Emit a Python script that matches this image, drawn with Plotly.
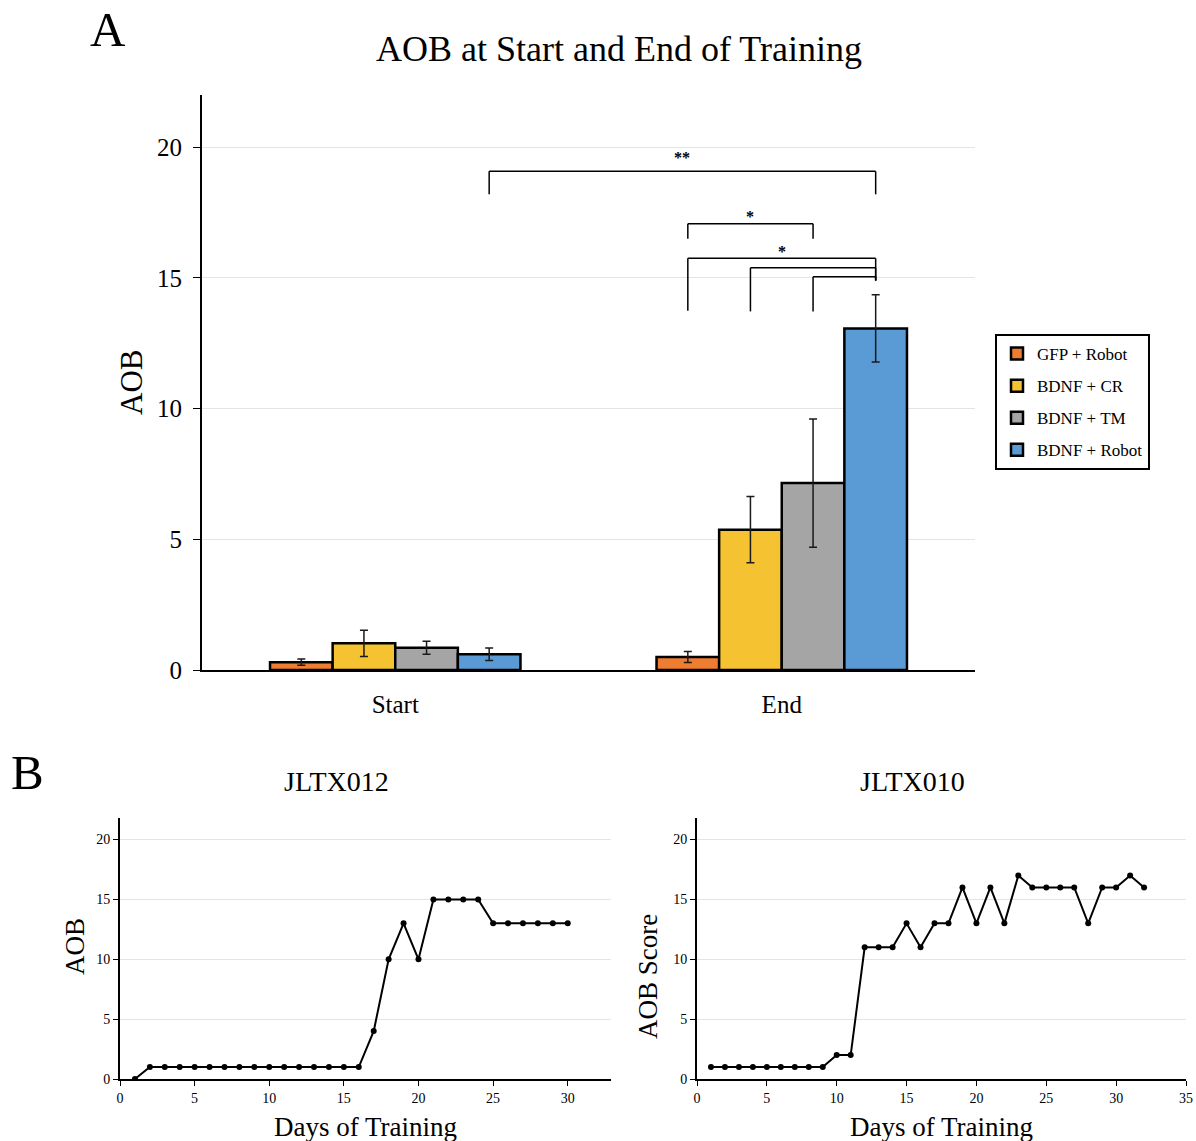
import plotly.graph_objects as go

# ---- Panel A: AOB at start and end of training (mean ± error) ----
phases = ["Start", "End"]
groups = ["GFP + Robot", "BDNF + CR", "BDNF + TM", "BDNF + Robot"]
group_colors = ["#ED7D31", "#F5C232", "#A5A5A5", "#5B9BD5"]
aob_mean = {
    "GFP + Robot": [0.30, 0.50],
    "BDNF + CR": [1.02, 5.37],
    "BDNF + TM": [0.85, 7.15],
    "BDNF + Robot": [0.60, 13.07],
}
aob_err = {
    "GFP + Robot": [0.12, 0.21],
    "BDNF + CR": [0.50, 1.27],
    "BDNF + TM": [0.25, 2.45],
    "BDNF + Robot": [0.24, 1.29],
}

# significance brackets: (left (phase, group), right (phase, group), bar height, leg depth)
brackets = [
    ((0, 3), (1, 3), 19.08, 18.20),
    ((1, 0), (1, 2), 17.07, 16.50),
    ((1, 0), (1, 3), 15.75, 13.75),
    ((1, 1), (1, 3), 15.39, 13.72),
    ((1, 2), (1, 3), 15.05, 13.72),
]
# star labels: (text, x between (phase, group) pair, height)
star_labels = [
    ("**", (0, 3), (1, 3), 19.62),
    ("*", (1, 0), (1, 2), 17.36),
    ("*", (1, 0), (1, 3), 16.02),
]

# ---- Panel B: daily AOB scores of two animals ----
days_012 = list(range(1, 31))
aob_012 = [0, 1, 1, 1, 1, 1, 1, 1, 1, 1, 1, 1, 1, 1, 1, 1, 4, 10, 13, 10,
           15, 15, 15, 15, 13, 13, 13, 13, 13, 13]
days_010 = list(range(1, 33))
aob_010 = [1, 1, 1, 1, 1, 1, 1, 1, 1, 2, 2, 11, 11, 11, 13, 11, 13, 13, 16, 13,
           16, 13, 17, 16, 16, 16, 16, 13, 16, 16, 17, 16]

FONT = "Liberation Serif, Times New Roman, serif"
BARGAP = 0.352
bar_w = (1 - BARGAP) / len(groups)


def bar_center(phase_idx, group_idx):
    return phase_idx + (group_idx - (len(groups) - 1) / 2) * bar_w


fig = go.Figure()

for g, col in zip(groups, group_colors):
    fig.add_trace(go.Bar(
        x=[0, 1], y=aob_mean[g], name=g,
        marker=dict(color=col, line=dict(color="black", width=2.5)),
        error_y=dict(type="data", array=aob_err[g], color="#1a1a1a",
                     thickness=1.5, width=4),
        legendgroup=g,
        xaxis="x", yaxis="y",
    ))

fig.add_trace(go.Scatter(
    x=days_012, y=aob_012, mode="lines+markers",
    line=dict(color="black", width=2), marker=dict(color="black", size=6),
    showlegend=False, xaxis="x2", yaxis="y2",
))
fig.add_trace(go.Scatter(
    x=days_010, y=aob_010, mode="lines+markers",
    line=dict(color="black", width=2), marker=dict(color="black", size=6),
    showlegend=False, xaxis="x3", yaxis="y3",
))

shapes = []
line_style = dict(color="black", width=1.5)
for (lp, lg), (rp, rg), h, depth in brackets:
    x0, x1 = bar_center(lp, lg), bar_center(rp, rg)
    shapes.append(dict(type="line", xref="x", yref="y", x0=x0, x1=x1, y0=h, y1=h, line=line_style))
    shapes.append(dict(type="line", xref="x", yref="y", x0=x0, x1=x0, y0=h, y1=depth, line=line_style))
    right_depth = depth if rg != 3 or lp == 0 else 14.9
    shapes.append(dict(type="line", xref="x", yref="y", x0=x1, x1=x1, y0=h, y1=right_depth, line=line_style))

annotations = []
for txt, (lp, lg), (rp, rg), h in star_labels:
    annotations.append(dict(
        text="<b>" + txt + "</b>", xref="x", yref="y",
        x=(bar_center(lp, lg) + bar_center(rp, rg)) / 2, y=h,
        showarrow=False, font=dict(family=FONT, size=16, color="black"),
    ))


def paper_x(px):
    return px / 1196


def paper_y(py):
    return 1 - py / 1141


text_items = [
    ("A", 108, 30, 49, 0),
    ("B", 27, 772, 49, 0),
    ("AOB at Start and End of Training", 619, 49, 36, 0),
    ("AOB", 132, 383, 31, -90),
    ("JLTX012", 336, 782, 28, 0),
    ("JLTX010", 912, 782, 28, 0),
    ("Days of Training", 365, 1127, 27, 0),
    ("Days of Training", 941, 1127, 27, 0),
    ("AOB", 75, 947, 27, -90),
    ("AOB Score", 648, 977, 27, -90),
]
for txt, px, py, size, ang in text_items:
    annotations.append(dict(
        text=txt, xref="paper", yref="paper", x=paper_x(px), y=paper_y(py),
        xanchor="center", yanchor="middle", showarrow=False, textangle=ang,
        font=dict(family=FONT, size=size, color="black"),
    ))

axis_common = dict(showline=True, linecolor="black", linewidth=2, zeroline=False,
                   automargin=False, tickcolor="black")


def tick_font(size):
    return dict(family=FONT, size=size, color="black")


fig.update_layout(
    width=1196, height=1141,
    margin=dict(l=0, r=0, t=0, b=0, autoexpand=False),
    paper_bgcolor="white", plot_bgcolor="white",
    barmode="group", bargap=BARGAP, bargroupgap=0,
    font=dict(family=FONT, color="black"),
    shapes=shapes, annotations=annotations,
    legend=dict(x=paper_x(995), y=paper_y(334), xanchor="left", yanchor="top",
                bordercolor="black", borderwidth=2, bgcolor="white",
                font=dict(family=FONT, size=17, color="black"),
                tracegroupgap=7, traceorder="grouped", itemwidth=30),
    xaxis=dict(domain=[paper_x(202), paper_x(975)], range=[-0.5, 1.5],
               tickvals=[0, 1], ticktext=phases, ticks="", showgrid=False,
               ticklabelstandoff=11, tickfont=tick_font(25), **axis_common),
    yaxis=dict(domain=[paper_y(670), paper_y(95)], range=[0, 22],
               tickvals=[0, 5, 10, 15, 20], ticks="outside", ticklen=7,
               showgrid=True, gridcolor="#e4e4e4", gridwidth=1,
               ticklabelstandoff=6, tickfont=tick_font(25), **axis_common),
    xaxis2=dict(domain=[paper_x(120), paper_x(611)], range=[0, 32.9],
                tickvals=[0, 5, 10, 15, 20, 25, 30], ticks="outside", ticklen=5,
                showgrid=False, anchor="y2", tickfont=tick_font(14), **axis_common),
    yaxis2=dict(domain=[paper_y(1079), paper_y(818)], range=[0, 21.8],
                tickvals=[0, 5, 10, 15, 20], ticks="outside", ticklen=5,
                showgrid=True, gridcolor="#e4e4e4", gridwidth=1, anchor="x2",
                tickfont=tick_font(14), **axis_common),
    xaxis3=dict(domain=[paper_x(697), paper_x(1186)], range=[0, 35],
                tickvals=[0, 5, 10, 15, 20, 25, 30, 35], ticks="outside", ticklen=5,
                showgrid=False, anchor="y3", tickfont=tick_font(14), **axis_common),
    yaxis3=dict(domain=[paper_y(1079), paper_y(818)], range=[0, 21.8],
                tickvals=[0, 5, 10, 15, 20], ticks="outside", ticklen=5,
                showgrid=True, gridcolor="#e4e4e4", gridwidth=1, anchor="x3",
                tickfont=tick_font(14), **axis_common),
)

fig.write_html("out.html")
